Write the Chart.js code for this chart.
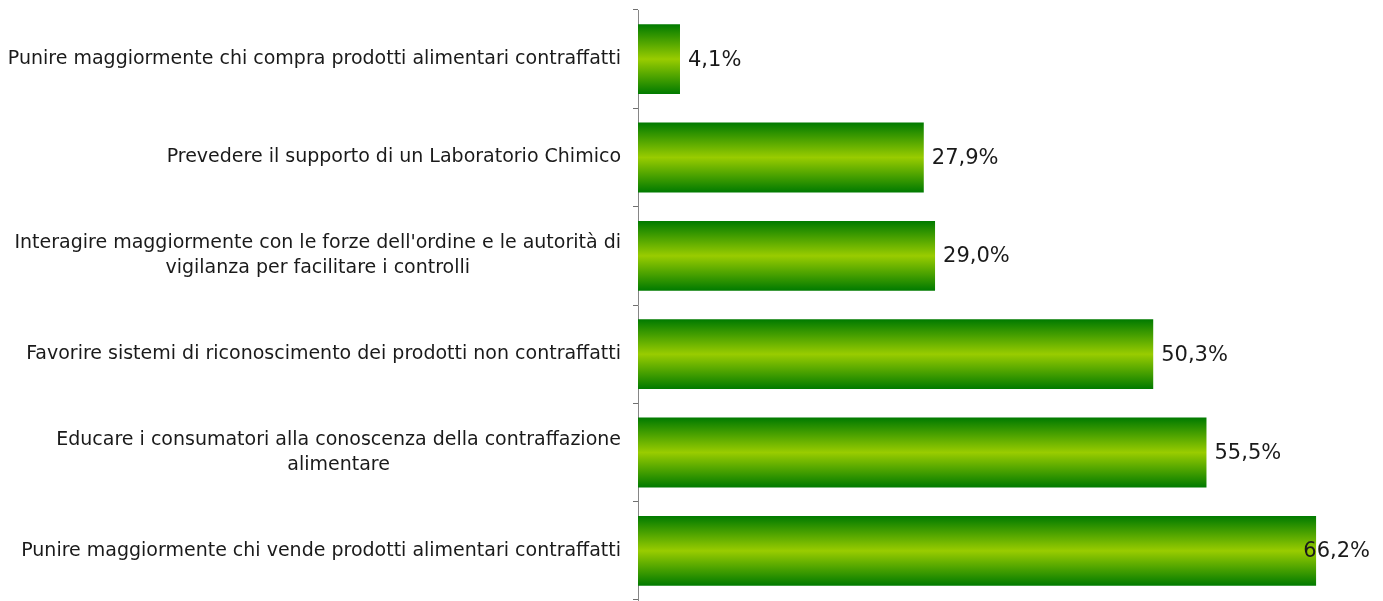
<!DOCTYPE html>
<html>
<head>
<meta charset="utf-8">
<script src="https://cdn.jsdelivr.net/npm/chart.js@4.4.1/dist/chart.umd.min.js"></script>
<style>
  html, body { margin: 0; padding: 0; background: #fff; }
  #wrap { width: 1383px; height: 601px; }
</style>
</head>
<body>
<div id="wrap"><canvas id="Chart"></canvas></div>
<script>
// categories (top to bottom) and values in %
const categories = [
    ["Punire maggiormente chi compra prodotti alimentari contraffatti"],
    ["Prevedere il supporto di un Laboratorio Chimico"],
    ["Interagire maggiormente con le forze dell'ordine e le autorità di", "vigilanza per facilitare i controlli"],
    ["Favorire sistemi di riconoscimento dei prodotti non contraffatti"],
    ["Educare i consumatori alla conoscenza della contraffazione", "alimentare"],
    ["Punire maggiormente chi vende prodotti alimentari contraffatti"]
];
const values = [4.1, 27.9, 29.0, 50.3, 55.5, 66.2];
const axisMax = 70;

const FONT = '"DejaVu Sans", sans-serif';

// vertical gradient for each bar (dark edges, light middle)
function barGradient(context) {
    const chart = context.chart;
    const y = chart.scales.y;
    if (!y || !chart.chartArea) return '#7fbf00';
    const step = (y.bottom - y.top) / categories.length;
    const h = step * 0.71;
    const cy = y.getPixelForValue(context.dataIndex);
    const g = chart.ctx.createLinearGradient(0, cy - h / 2, 0, cy + h / 2);
    g.addColorStop(0, '#007a00');
    g.addColorStop(0.5, '#99cc00');
    g.addColorStop(1, '#007a00');
    return g;
}

// draws the category labels (lines centered within the block) and value labels
const labelPlugin = {
    id: 'labels',
    afterDatasetsDraw(chart) {
        const ctx = chart.ctx;
        const y = chart.scales.y;
        const meta = chart.getDatasetMeta(0);
        ctx.save();
        ctx.fillStyle = '#1a1a1a';
        ctx.textBaseline = 'middle';

        // category labels
        ctx.font = '19px ' + FONT;
        ctx.textAlign = 'center';
        const lineH = 25;
        categories.forEach((lines, i) => {
            const cy = y.getPixelForValue(i);
            const w = Math.max(...lines.map(l => ctx.measureText(l).width));
            const cx = 621 - w / 2;
            const y0 = cy - (lines.length - 1) * lineH / 2;
            lines.forEach((l, k) => ctx.fillText(l, cx, y0 + k * lineH));
        });

        // value labels, pushed back inside the canvas if they would overflow
        ctx.font = '21px ' + FONT;
        ctx.textAlign = 'left';
        meta.data.forEach((bar, i) => {
            const txt = values[i].toFixed(1).replace('.', ',') + '%';
            const w = ctx.measureText(txt).width;
            const x = Math.min(bar.x + 8, chart.width - 13 - w);
            ctx.fillText(txt, x, bar.y + 1);
        });
        ctx.restore();
    }
};

const ctx = document.getElementById('Chart').getContext('2d');
const myChart = new Chart(ctx, {
    type: 'bar',
    data: {
        labels: categories.map(c => c.join(' ')),
        datasets: [{
            data: values,
            backgroundColor: barGradient,
            borderWidth: 0,
            categoryPercentage: 1,
            barPercentage: 0.71
        }]
    },
    options: {
        indexAxis: 'y',
        responsive: true,
        maintainAspectRatio: false,
        animation: false,
        layout: { padding: { top: 10, bottom: 1, left: 0, right: 28 } },
        plugins: {
            legend: { display: false },
            tooltip: { enabled: false }
        },
        scales: {
            x: {
                display: false,
                min: 0,
                max: axisMax
            },
            y: {
                grid: {
                    drawOnChartArea: false,
                    drawTicks: true,
                    tickLength: 5,
                    color: '#707070',
                    offset: true
                },
                border: { display: true, color: '#868686', width: 1 },
                ticks: { display: false },
                afterFit: function(scale) {
                    scale.width = 638; // fixed room for the labels
                }
            }
        }
    },
    plugins: [labelPlugin]
});
</script>
</body>
</html>
